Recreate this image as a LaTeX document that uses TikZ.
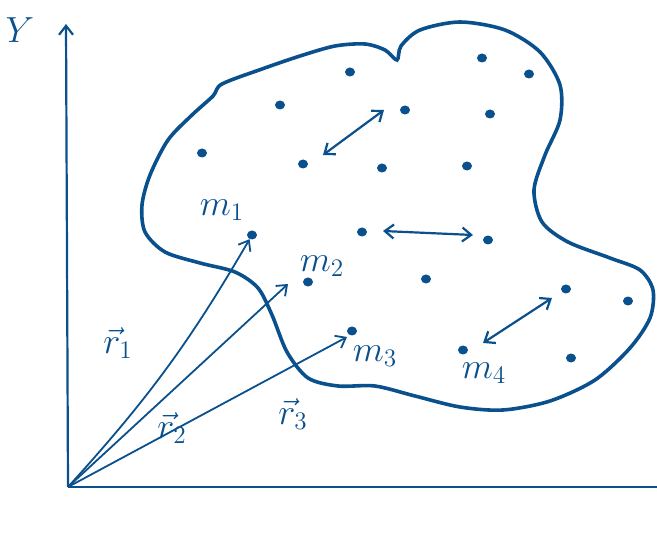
\RequirePackage{fix-cm}
\documentclass[tikz,border=0pt]{standalone}
\usepackage{amsmath}
\usepackage{graphicx}
\usetikzlibrary{arrows.meta, shapes.geometric}
\definecolor{ink}{RGB}{10,80,140}

\newcommand{\hand}[1]{\scalebox{2.1}{$#1$}}

\tikzset{
  mass/.style={ellipse, fill=ink, inner sep=0pt, minimum width=10pt, minimum height=9pt},
  lbl/.style={text=ink, font=\LARGE},
  axis/.style={draw=ink, line width=2.2pt},
  vecline/.style={draw=ink, line width=1.8pt},
  swap/.style={draw=ink, line width=2.2pt, <->},
  blob/.style={draw=ink, line width=3.6pt}
}

\begin{document}
\begin{tikzpicture}[x=1pt, y=-1pt, >={Straight Barb[length=9pt, width=14pt]}]
    \useasboundingbox (0,0) rectangle (657,540);

    % Axes
    \coordinate (O) at (68,487);
    \coordinate (ytip) at (66,24);
    \coordinate (xend) at (657,487);
    \draw[axis, ->] (O) -- (ytip);
    \draw[axis] (O) -- (xend);
    \node[lbl] (ylab) at (20,30) {\hand{Y}};

    % Body
    \draw[blob] plot[smooth cycle] coordinates {
      (222,84) (262,69) (300,56) (335,46) (365,44) (385,50) (397,60) (401,46)
      (420,30) (460,22) (505,30) (540,52) (560,85) (560,120) (545,155) (534,190)
      (542,222) (568,242) (610,258) (640,270) (653,290) (650,318) (630,348)
      (595,380) (550,401) (503,410) (460,407) (415,396) (375,386) (338,386)
      (308,378) (287,352) (272,315) (258,288) (235,272) (200,263) (165,252)
      (145,232) (142,205) (150,175) (168,140) (192,115) (213,96)};

    % Masses
    \node[mass] (d1) at (280,105) {};
    \node[mass] (d2) at (202,153) {};
    \node[mass] (d3) at (303,164) {};
    \node[mass] (d4) at (350,72) {};
    \node[mass] (d5) at (482,58) {};
    \node[mass] (d6) at (529,74) {};
    \node[mass] (d7) at (405,110) {};
    \node[mass] (d8) at (490,114) {};
    \node[mass] (d9) at (382,168) {};
    \node[mass] (d10) at (467,166) {};
    \node[mass] (d11) at (362,232) {};
    \node[mass] (d12) at (488,240) {};
    \node[mass] (d13) at (426,279) {};
    \node[mass] (d14) at (566,289) {};
    \node[mass] (d15) at (628,301) {};
    \node[mass] (d16) at (571,358) {};
    \node[mass] (m1) at (252,235) {};
    \node[mass] (m2) at (308,282) {};
    \node[mass] (m3) at (352,331) {};
    \node[mass] (m4) at (463,350) {};

    \node[lbl] (m1lab) at (222,210) {\hand{m_1}};
    \node[lbl] (m2lab) at (322,266) {\hand{m_2}};
    \node[lbl] (m3lab) at (375,356) {\hand{m_3}};
    \node[lbl] (m4lab) at (484,373) {\hand{m_4}};

    % Interactions
    \coordinate (a1) at (323,155);
    \coordinate (b1) at (384,110);
    \coordinate (a2) at (383,231);
    \coordinate (b2) at (473,235);
    \coordinate (a3) at (483,343);
    \coordinate (b3) at (552,298);
    \draw[swap] (a1) -- (b1);
    \draw[swap] (a2) -- (b2);
    \draw[swap] (a3) -- (b3);

    % Position vectors
    \coordinate (t2) at (288,284);
    \coordinate (t3) at (347,337);
    \draw[vecline, ->] (O) to[bend right=6] (m1);
    \draw[vecline, ->] (O) -- (t2);
    \draw[vecline, ->] (O) -- (t3);

    \node[lbl] (r1lab) at (118,343) {\hand{\vec{r}_1}};
    \node[lbl] (r2lab) at (172,428) {\hand{\vec{r}_2}};
    \node[lbl] (r3lab) at (293,414) {\hand{\vec{r}_3}};
\end{tikzpicture}
\end{document}
